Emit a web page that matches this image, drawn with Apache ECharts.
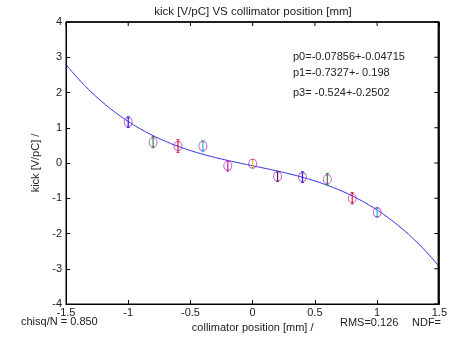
<!DOCTYPE html>
<html><head><meta charset="utf-8">
<script src="https://cdn.jsdelivr.net/npm/echarts@6/dist/echarts.min.js"></script>
<style>html,body{margin:0;padding:0;background:#fff;overflow:hidden}#c{width:450px;height:344px}</style>
</head><body><div id="c"></div>
<script>
const pointX = [-1, -0.8, -0.6, -0.4, -0.2, 0, 0.2, 0.4, 0.6, 0.8, 1];
const pointY = [1.16, 0.59, 0.48, 0.48, -0.08, -0.02, -0.38, -0.4, -0.46, -1.0, -1.4];
const pointErr = [0.15, 0.16, 0.18, 0.16, 0.15, 0.12, 0.14, 0.15, 0.16, 0.16, 0.14];
const barColors = ['#2020e0', '#2a8a2a', '#e02020', '#20c0d0', '#c020c0', '#e0c020', '#502050', '#2020e0', '#2a8a2a', '#e02020', '#20c0d0'];
const fitX = [-1.5,-1.4,-1.3,-1.2,-1.1,-1.0,-0.9,-0.8,-0.7,-0.6,-0.5,-0.4,-0.3,-0.2,-0.1,0,0.1,0.2,0.3,0.4,0.5,0.6,0.7,0.8,0.9,1.0,1.1,1.2,1.3,1.4,1.5];
const fitY = [2.79,2.385,2.025,1.706,1.425,1.178,0.963,0.776,0.614,0.474,0.353,0.248,0.155,0.072,-0.005,-0.079,-0.152,-0.229,-0.312,-0.405,-0.51,-0.632,-0.771,-0.933,-1.12,-1.335,-1.582,-1.863,-2.181,-2.54,-2.946];
const xTicks = [-1.5,-1,-0.5,0,0.5,1,1.5];
const yTicks = [-4,-3,-2,-1,0,1,2,3,4];
const fitText = ['p0=-0.07856+-0.04715', 'p1=-0.7327+- 0.198', 'p3= -0.524+-0.2502'];

const FONT = 'Liberation Sans, Arial, sans-serif';
const TXT = '#222';
const chart = echarts.init(document.getElementById('c'), null, {renderer:'canvas', width:450, height:344});
chart.setOption({
  animation:false,
  backgroundColor:'#fff',
  grid:{left:66, right:7, top:22, bottom:40},
  xAxis:{type:'value', min:-1.5, max:1.5, interval:0.5,
      axisLine:{show:true, onZero:false, lineStyle:{color:'#000', width:1}},
      axisTick:{show:true, inside:true, length:4, lineStyle:{color:'#000'}},
      splitLine:{show:false},
      name:'collimator position [mm] /', nameLocation:'middle', nameGap:12,
      nameTextStyle:{fontFamily:FONT, fontSize:11, color:TXT},
      axisLabel:{fontFamily:FONT, fontSize:11, color:TXT, margin:3,
        formatter:v=>xTicks.includes(v)?String(v):''}},
  yAxis:{type:'value', min:-4, max:4, interval:1,
      axisLine:{show:true, onZero:false, lineStyle:{color:'#000', width:1}},
      axisTick:{show:true, inside:true, length:4, lineStyle:{color:'#000'}},
      splitLine:{show:false},
      name:'kick [V/pC] /', nameLocation:'middle', nameGap:25,
      nameTextStyle:{fontFamily:FONT, fontSize:11, color:TXT},
      axisLabel:{fontFamily:FONT, fontSize:11, color:TXT, margin:4,
        formatter:v=>yTicks.includes(v)?String(v):''}},
  series:[
    {type:'line', data:fitX.map((x,i)=>[x,fitY[i]]), smooth:true, showSymbol:false,
      lineStyle:{color:'#2a2ae0', width:1}, z:2,
      markArea:{silent:true, itemStyle:{color:'rgba(0,0,0,0)', borderColor:'#000', borderWidth:1},
        data:[[{coord:[xTicks[0], yTicks[yTicks.length-1]]},{coord:[xTicks[xTicks.length-1], yTicks[0]]}]]}},
    {type:'custom', data:pointX.map((x,i)=>[x,pointY[i],pointErr[i],i]),
      renderItem:function(params, api){
        const x=api.value(0), y=api.value(1), e=api.value(2), idx=api.value(3);
        const p1=api.coord([x,y+e]), p2=api.coord([x,y-e]);
        const c=barColors[idx];
        return {type:'group', children:[
          {type:'line', shape:{x1:p1[0],y1:p1[1],x2:p2[0],y2:p2[1]}, style:{stroke:c, lineWidth:1.2}},
          {type:'line', shape:{x1:p1[0]-1.5,y1:p1[1],x2:p1[0]+1.5,y2:p1[1]}, style:{stroke:c, lineWidth:1}},
          {type:'line', shape:{x1:p2[0]-1.5,y1:p2[1],x2:p2[0]+1.5,y2:p2[1]}, style:{stroke:c, lineWidth:1}}
        ]};
      }, z:3},
    {type:'scatter', data:pointX.map((x,i)=>[x,pointY[i]]), symbol:'circle', symbolSize:[8,9],
      itemStyle:{color:'rgba(0,0,0,0)', borderColor:'#b030c0', borderWidth:1}, z:4}
  ]
});

// inward ticks on top and right edges, positioned through the chart's own scales
const tl = chart.convertToPixel({gridIndex:0}, [xTicks[0], yTicks[yTicks.length-1]]);
const br = chart.convertToPixel({gridIndex:0}, [xTicks[xTicks.length-1], yTicks[0]]);
const frame = [
  {type:'line', shape:{x1:tl[0], y1:tl[1], x2:br[0], y2:tl[1]}, style:{stroke:'#000', lineWidth:1.5}, z:100},
  {type:'line', shape:{x1:br[0]-1, y1:tl[1], x2:br[0]-1, y2:br[1]}, style:{stroke:'#000', lineWidth:1.5}, z:100}
];
xTicks.forEach(t=>{ const p=chart.convertToPixel({gridIndex:0},[t,yTicks[yTicks.length-1]]);
  frame.push({type:'line', shape:{x1:p[0],y1:p[1],x2:p[0],y2:p[1]+4}, style:{stroke:'#000', lineWidth:1}, z:100}); });
yTicks.forEach(t=>{ const p=chart.convertToPixel({gridIndex:0},[xTicks[xTicks.length-1],t]);
  frame.push({type:'line', shape:{x1:p[0]-5,y1:p[1],x2:p[0]-1,y2:p[1]}, style:{stroke:'#000', lineWidth:1}, z:100}); });

chart.setOption({graphic:frame.concat([
  {type:'text', x:253, y:12, style:{text:'kick [V/pC] VS collimator position [mm]', font:'11.5px '+FONT, fill:TXT, textAlign:'center', textVerticalAlign:'middle'}},
  {type:'text', left:21, top:316, style:{text:'chisq/N = 0.850', font:'11px '+FONT, fill:TXT}},
  {type:'text', left:340, top:317, style:{text:'RMS=0.126', font:'11px '+FONT, fill:TXT}},
  {type:'text', left:412, top:317, style:{text:'NDF=', font:'11px '+FONT, fill:TXT}},
  {type:'text', left:293, top:51, style:{text:fitText[0], font:'11px '+FONT, fill:TXT}},
  {type:'text', left:293, top:67, style:{text:fitText[1], font:'11px '+FONT, fill:TXT}},
  {type:'text', left:293, top:87, style:{text:fitText[2], font:'11px '+FONT, fill:TXT}}
])});
</script></body></html>
